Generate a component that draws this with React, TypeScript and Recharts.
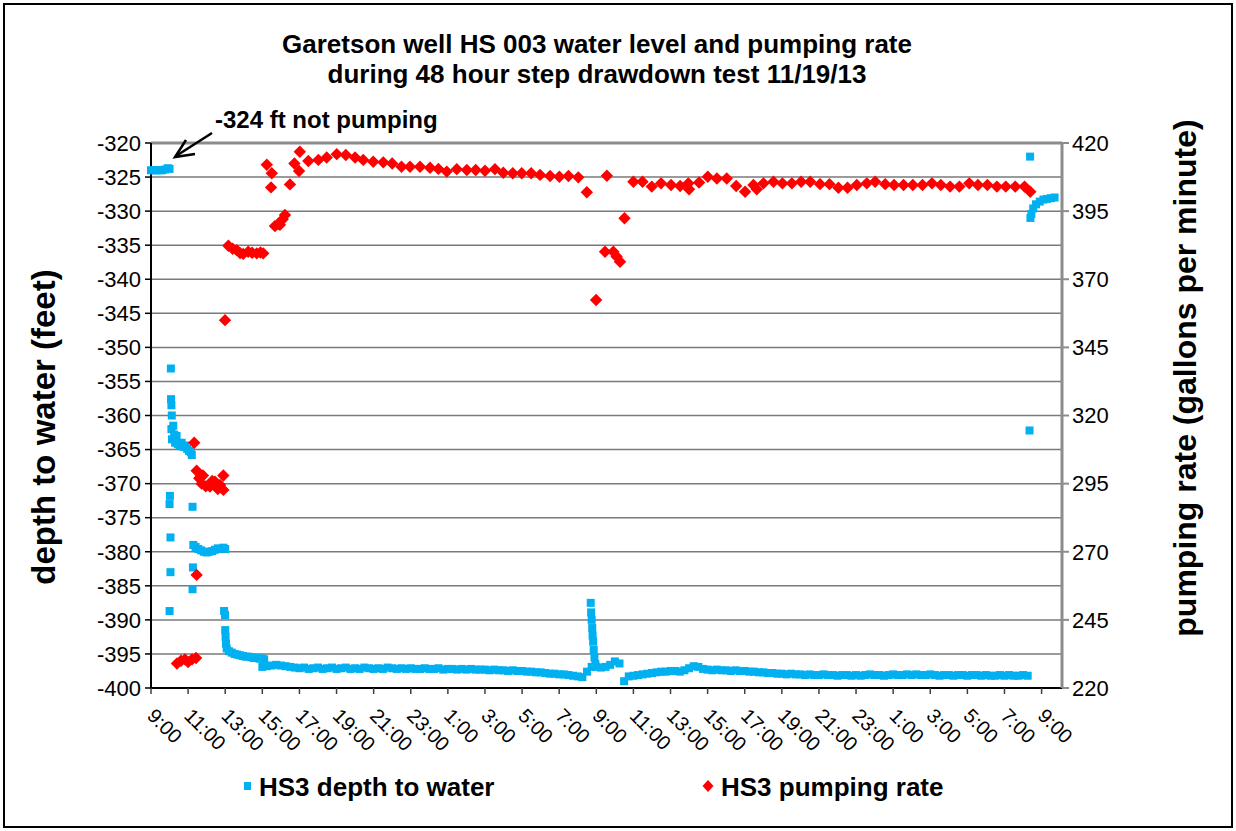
import React from 'react';
import { ScatterChart, Scatter, XAxis, YAxis, CartesianGrid, ReferenceLine } from 'recharts';

const FONT = '"Liberation Sans", Arial, Helvetica, sans-serif';

// hours after 9:00 on 11/19/13, every 2 hours
const timeTicks = [0, 2, 4, 6, 8, 10, 12, 14, 16, 18, 20, 22, 24, 26, 28, 30, 32, 34, 36, 38, 40, 42, 44, 46, 48];
const timeLabels = [
  '9:00', '11:00', '13:00', '15:00', '17:00', '19:00', '21:00', '23:00', '1:00', '3:00', '5:00', '7:00',
  '9:00', '11:00', '13:00', '15:00', '17:00', '19:00', '21:00', '23:00', '1:00', '3:00', '5:00', '7:00', '9:00',
];
const depthTicks = [-400, -395, -390, -385, -380, -375, -370, -365, -360, -355, -350, -345, -340, -335, -330, -325, -320];
const rateTicks = [220, 245, 270, 295, 320, 345, 370, 395, 420];

// HS3 depth to water (ft) — [hour, depth]
const depthStatic: [number, number][] = [
  [0, -324], [0.15, -324], [0.3, -324], [0.45, -324], [0.6, -324], [0.75, -323.9], [0.9, -323.7], [1.0, -323.8],
];
const depthStep1: [number, number][] = [
  [1.0, -373], [1.02, -371.8], [1.05, -383], [1.0, -388.7], [1.05, -377.9], [1.07, -353.1], [1.08, -357.6],
  [1.1, -358.5], [1.12, -360], [1.1, -362], [1.13, -363.5], [1.2, -361.5], [1.25, -362.8], [1.3, -364],
  [1.38, -363], [1.45, -364.2], [1.55, -364.5], [1.65, -364], [1.75, -364.6], [1.85, -364.4], [1.95, -364.9],
  [2.05, -365.2], [2.15, -365.4], [2.2, -365.8],
];
const depthStep2: [number, number][] = [
  [2.24, -373.4], [2.26, -382.3], [2.24, -385.5], [2.28, -379], [2.4, -379.3], [2.55, -379.6], [2.7, -379.8],
  [2.85, -380], [3.0, -380.1], [3.15, -380], [3.3, -379.9], [3.45, -379.7], [3.6, -379.5], [3.75, -379.6],
  [3.9, -379.4], [4.0, -379.6],
];
const depthStep3: [number, number][] = [
  [3.94, -388.7], [3.99, -389.3], [4.0, -391.5], [4.02, -392.5], [4.04, -393.5], [4.08, -394.2], [4.2, -394.6],
  [4.35, -394.8], [4.5, -395], [4.65, -395.1], [4.8, -395.2], [4.95, -395.3], [5.1, -395.4], [5.25, -395.4],
  [5.4, -395.5], [5.55, -395.6], [5.7, -395.6], [5.85, -395.7], [6.0, -395.7], [6.1, -395.8],
];
// logger readings every 15 minutes from hour 6
const depthLoggerStart = 6;
const depthLoggerStep = 0.25;
const depthLogger = [
  -396.9, -396.8, -396.7, -396.6, -396.7, -396.8, -396.9, -397.0,
  -397.1, -397.0, -397.2, -397.1, -397.0, -397.2, -397.1, -397.0,
  -397.2, -397.1, -397.0, -397.2, -397.1, -397.2, -397.0, -397.1,
  -397.2, -397.1, -397.2, -397.0, -397.1, -397.2, -397.1, -397.2,
  -397.1, -397.2, -397.2, -397.1, -397.2, -397.2, -397.1, -397.3,
  -397.2, -397.2, -397.3, -397.2, -397.3, -397.2, -397.3, -397.3,
  -397.3, -397.4, -397.3, -397.4, -397.4, -397.5, -397.4, -397.5,
  -397.5, -397.6, -397.6, -397.7, -397.7, -397.8, -397.9, -397.9,
  -398.0, -398.0, -398.1, -398.2, -398.3, -398.4, -397.6, -396.9,
  -396.9, -397.0, -396.9, -396.6, -396.1, -396.4, -399.0, -398.3,
  -398.2, -398.1, -398.0, -397.9, -397.8, -397.7, -397.6, -397.6,
  -397.5, -397.5, -397.6, -397.4, -397.1, -396.8, -396.9, -397.2,
  -397.3, -397.4, -397.3, -397.4, -397.4, -397.5, -397.4, -397.5,
  -397.5, -397.6, -397.6, -397.7, -397.7, -397.8, -397.8, -397.9,
  -397.9, -398.0, -397.9, -398.0, -398.0, -398.1, -398.0, -398.1,
  -398.1, -398.0, -398.1, -398.1, -398.2, -398.1, -398.1, -398.2,
  -398.1, -398.2, -398.1, -398.0, -398.1, -398.1, -398.2, -398.1,
  -398.0, -398.1, -398.1, -398.0, -398.1, -398.0, -398.1, -398.1,
  -398.0, -398.1, -398.2, -398.1, -398.1, -398.2, -398.1, -398.1,
  -398.2, -398.1, -398.1, -398.2, -398.1, -398.2, -398.2, -398.1,
  -398.2, -398.1, -398.2, -398.2, -398.1, -398.2,
];
const depthSpike: [number, number][] = [
  [23.7, -387.5], [23.72, -388.9], [23.75, -390], [23.78, -391.2], [23.8, -392.3], [23.83, -393.2],
  [23.86, -394.4], [23.9, -395.5], [23.95, -396.5],
];
const depthRecovery: [number, number][] = [
  [47.35, -362.2], [47.38, -322], [47.4, -331], [47.45, -330.4], [47.55, -329.6], [47.7, -329],
  [47.9, -328.6], [48.1, -328.3], [48.3, -328.2], [48.5, -328.1], [48.7, -328],
];

// HS3 pumping rate (gpm) — [hour, rate]
const rateStep1: [number, number][] = [
  [1.4, 229], [1.62, 230], [1.83, 230.5], [2.0, 229.5], [2.21, 230.5], [2.43, 231],
];
const rateStep2: [number, number][] = [
  [2.33, 310], [2.46, 261.5], [2.46, 299.7], [2.6, 297], [2.73, 295], [2.8, 298], [2.95, 294], [3.18, 293.9],
  [3.3, 296], [3.45, 295.7], [3.6, 293], [3.72, 294.5], [3.9, 298], [3.9, 292.7],
];
const rateStep3: [number, number][] = [
  [3.99, 355], [4.17, 382.3], [4.4, 381.2], [4.62, 380.7], [4.8, 379.6], [4.97, 379.3], [5.24, 380.1],
  [5.45, 379.7], [5.7, 379.5], [5.9, 379.8], [6.05, 379.5],
];
const rateStep4: [number, number][] = [
  [6.24, 412], [6.47, 403.7], [6.51, 408.9], [6.68, 389.5], [6.85, 390.3], [6.95, 390], [7.1, 392],
  [7.22, 393.6], [7.49, 404.8], [7.73, 412.5], [7.98, 409.7], [8.02, 416.8],
];
const rateDay1: [number, number][] = [
  [8.48, 413.4], [9.02, 413.8], [9.47, 414.7], [10.01, 415.9], [10.5, 415.6], [11.0, 414.7], [11.44, 413.8],
  [11.98, 413.1], [12.52, 412.9], [13.0, 412.5], [13.5, 411.3], [13.96, 411.3], [14.5, 411.3], [15.04, 410.9],
  [15.49, 410.5], [15.94, 409.5], [16.48, 410.4], [17.02, 410.1], [17.5, 410.1], [18.0, 409.8], [18.54, 410.4],
  [18.99, 409.1], [19.5, 408.9], [19.98, 408.9], [20.49, 408.9], [20.97, 408.3], [21.51, 407.9], [22.01, 407.6],
  [22.5, 407.9], [23.03, 407.4],
];
const rateDrop: [number, number][] = [
  [23.49, 401.9], [23.99, 362.4], [24.47, 380.1], [24.57, 408], [24.92, 380.1], [25.1, 378.3], [25.28, 376.4],
  [25.52, 392.4],
];
const rateDay2: [number, number][] = [
  [26.0, 405.8], [26.49, 405.8], [26.99, 404], [27.49, 405.2], [28.03, 404.6], [28.52, 404.2], [28.96, 405.2],
  [29.0, 403], [29.54, 405.5], [30.01, 407.6], [30.5, 407], [31.03, 407], [31.54, 404.2], [32.02, 402.1],
  [32.47, 404.6], [32.65, 403], [33.01, 405.2], [33.55, 405.8], [34.03, 405.2], [34.54, 405.2], [35.04, 405.8],
  [35.53, 405.8], [36.06, 404.9], [36.57, 404.9], [37.05, 403.6], [37.54, 403.6], [38.04, 404.6], [38.58, 405.2],
  [39.03, 405.8], [39.57, 404.9], [40.05, 404.6], [40.56, 404.6], [41.06, 404.6], [41.58, 404.6], [42.09, 405.2],
  [42.57, 404.6], [43.07, 404], [43.57, 404], [44.1, 405.2], [44.57, 404.6], [45.08, 404.6], [45.59, 404],
  [46.07, 404], [46.58, 404], [47.08, 404], [47.39, 402.1],
];

const toPoints = (rows: [number, number][]) => rows.map(([x, y]) => ({ x, y }));

const depthData = [
  ...toPoints(depthStatic),
  ...toPoints(depthStep1),
  ...toPoints(depthStep2),
  ...toPoints(depthStep3),
  ...depthLogger.map((y, i) => ({ x: depthLoggerStart + i * depthLoggerStep, y })),
  ...toPoints(depthSpike),
  ...toPoints(depthRecovery),
];
const rateData = [
  ...toPoints(rateStep1),
  ...toPoints(rateStep2),
  ...toPoints(rateStep3),
  ...toPoints(rateStep4),
  ...toPoints(rateDay1),
  ...toPoints(rateDrop),
  ...toPoints(rateDay2),
];

const BLUE = '#00b0f0';
const RED = '#ff0000';

const BlueSquare = (props: any) => {
  const { cx, cy } = props;
  if (cx == null || cy == null) return null;
  return <rect x={cx - 4} y={cy - 4} width={8} height={8} fill={BLUE} />;
};

const RedDiamond = (props: any) => {
  const { cx, cy } = props;
  if (cx == null || cy == null) return null;
  const r = 6.2;
  return <polygon points={`${cx},${cy - r} ${cx + r},${cy} ${cx},${cy + r} ${cx - r},${cy}`} fill={RED} />;
};

const TimeTick = (props: any) => {
  const { x, y, payload } = props;
  const label = timeLabels[Math.round(payload.value / 2)];
  const tx = x - 5;
  const ty = y + 21;
  return (
    <text x={tx} y={ty} transform={`rotate(45 ${tx} ${ty})`} fontSize={20} fontFamily={FONT} fill="#000" textAnchor="start">
      {label}
    </text>
  );
};

export default function App() {
  return (
    <div style={{ position: 'absolute', left: 0, top: 0, width: 1236, height: 831, background: '#fff', fontFamily: FONT }}>
      <div style={{ position: 'absolute', left: 3, top: 3, width: 1226, height: 821, border: '2px solid #000' }} />
      <ScatterChart width={1236} height={831} margin={{ top: 143, right: 60, bottom: 20, left: 20 }}>
        <CartesianGrid yAxisId="left" vertical={false} stroke="#7a7a7a" strokeWidth={1.5} />
        <XAxis
          dataKey="x"
          type="number"
          domain={[0, 49.1]}
          ticks={timeTicks}
          tick={<TimeTick />}
          tickSize={6}
          height={123}
          interval={0}
          axisLine={{ stroke: '#000', strokeWidth: 2 }}
          tickLine={{ stroke: '#404040', strokeWidth: 1.5 }}
        />
        <YAxis
          yAxisId="left"
          dataKey="y"
          type="number"
          domain={[-400, -320]}
          ticks={depthTicks}
          interval={0}
          width={131}
          tickSize={6}
          tickMargin={4}
          tick={{ fontSize: 22, fill: '#000', fontFamily: FONT }}
          axisLine={{ stroke: '#000', strokeWidth: 2 }}
          tickLine={{ stroke: '#000', strokeWidth: 1.5 }}
        />
        <YAxis
          yAxisId="right"
          orientation="right"
          dataKey="y"
          type="number"
          domain={[220, 420]}
          ticks={rateTicks}
          interval={0}
          width={114}
          tickSize={7}
          tickMargin={3}
          tick={{ fontSize: 22, fill: '#000', fontFamily: FONT }}
          axisLine={{ stroke: '#8c8c8c', strokeWidth: 3 }}
          tickLine={{ stroke: '#8c8c8c', strokeWidth: 2 }}
        />
        <ReferenceLine yAxisId="left" y={-320} stroke="#8c8c8c" strokeWidth={3} />
        <Scatter
          name="HS3 depth to water"
          yAxisId="left"
          data={depthData}
          shape={(p: any) => <BlueSquare {...p} />}
          isAnimationActive={false}
        />
        <Scatter
          name="HS3 pumping rate"
          yAxisId="right"
          data={rateData}
          shape={(p: any) => <RedDiamond {...p} />}
          isAnimationActive={false}
        />
      </ScatterChart>

      <svg width={1236} height={831} style={{ position: 'absolute', left: 0, top: 0, pointerEvents: 'none' }}>
        <text x={597} y={53} textAnchor="middle" fontSize={26} fontWeight="bold" fontFamily={FONT}>
          Garetson well HS 003 water level and pumping rate
        </text>
        <text x={597} y={83} textAnchor="middle" fontSize={26} fontWeight="bold" fontFamily={FONT}>
          during 48 hour step drawdown test 11/19/13
        </text>
        <text x={215} y={128} fontSize={24} fontWeight="bold" fontFamily={FONT}>
          -324 ft not pumping
        </text>
        <line x1={212} y1={133} x2={176} y2={156} stroke="#000" strokeWidth={2.5} />
        <polyline points="186,140 175,157 195,154" fill="none" stroke="#000" strokeWidth={2.5} />
        <text
          x={43}
          y={427}
          transform="rotate(-90 43 427)"
          textAnchor="middle"
          dominantBaseline="central"
          fontSize={33}
          fontWeight="bold"
          fontFamily={FONT}
        >
          depth to water (feet)
        </text>
        <text
          x={1185}
          y={378}
          transform="rotate(-90 1185 378)"
          textAnchor="middle"
          dominantBaseline="central"
          fontSize={32}
          fontWeight="bold"
          fontFamily={FONT}
        >
          pumping rate (gallons per minute)
        </text>
        {/* legend */}
        <rect x={244} y={782} width={7} height={8} fill={BLUE} />
        <text x={259} y={796} fontSize={26} fontWeight="bold" fontFamily={FONT}>
          HS3 depth to water
        </text>
        <polygon points="708,780 713.5,786 708,792 702.5,786" fill={RED} />
        <text x={721} y={796} fontSize={26} fontWeight="bold" fontFamily={FONT}>
          HS3 pumping rate
        </text>
      </svg>
    </div>
  );
}
